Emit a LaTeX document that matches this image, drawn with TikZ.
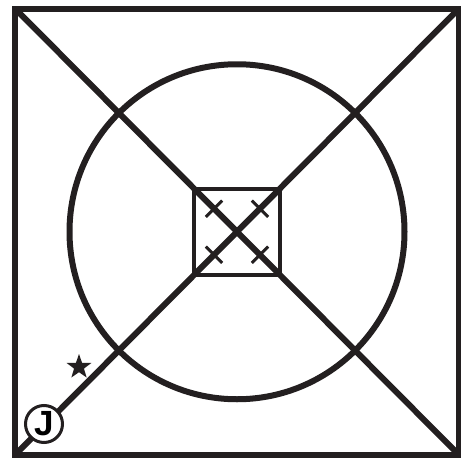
\documentclass[tikz,border=0pt]{standalone}
\usepackage{fontspec}
\setsansfont{Liberation Sans}
\usetikzlibrary{shapes.geometric,calc}
\definecolor{ink}{HTML}{231F20}

\begin{document}
\begin{tikzpicture}[x=1pt,y=-1pt,
  heavy/.style={draw=ink,line width=6pt},
  box/.style={rectangle,draw=ink,line width=3.5pt,minimum size=86pt,inner sep=0pt},
  tick/.style={draw=ink,line width=3pt},
  player/.style={circle,draw=ink,fill=white,line width=3pt,minimum size=37pt,inner sep=0pt,
    font=\sffamily\bfseries\fontsize{35}{35}\selectfont},
  starmark/.style={star,star points=5,star point ratio=2.5,fill=ink,minimum size=26pt,inner sep=0pt}]
  \useasboundingbox (0,0) rectangle (461,458);
  \coordinate (nw) at (15,8.5);
  \coordinate (ne) at (459,8.5);
  \coordinate (se) at (459,455);
  \coordinate (sw) at (15,455);
  \coordinate (c) at (237,231.75);
  % field
  \draw[heavy] (nw) rectangle (se);
  \draw[heavy] (nw) -- (se);
  \draw[heavy] (sw) -- (ne);
  \draw[heavy] (c) circle (167.5pt);
  \node[box] (zone) at (c) {};
  % cones
  \foreach \dx/\dy/\a in {-23/-23/-45,23/23/-45,23/-23/45,-23/23/45}
    \draw[tick] ($(c)+(\dx,\dy)$) ++(\a:11.5) -- ++(\a+180:23);
  \node[starmark] (goal) at (79,367) {};
  \node[player] (j) at (44,424) {J};
\end{tikzpicture}
\end{document}
